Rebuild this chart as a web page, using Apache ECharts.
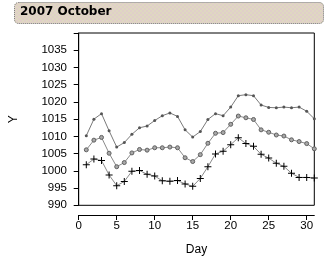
<!DOCTYPE html>
<html>
<head>
<meta charset="utf-8">
<script src="https://cdn.jsdelivr.net/npm/echarts@6/dist/echarts.min.js"></script>
<style>
html,body{margin:0;padding:0;background:#fff;}
#c{width:331px;height:261px;}
</style>
</head>
<body>
<div id="c"></div>
<script>
var titleText = '2007 October';
var days = [1,2,3,4,5,6,7,8,9,10,11,12,13,14,15,16,17,18,19,20,21,22,23,24,25,26,27,28,29,30,31];
var highVals = [1010.2,1015.0,1016.6,1011.6,1006.9,1008.2,1010.6,1012.5,1013.0,1014.6,1016.0,1016.8,1015.8,1011.9,1009.8,1011.4,1014.9,1016.6,1016.0,1018.5,1021.8,1022.1,1021.8,1019.1,1018.4,1018.3,1018.5,1018.3,1018.5,1017.3,1015.1];
var meanVals = [1006.1,1008.9,1009.7,1005.1,1001.2,1002.4,1005.2,1006.2,1006.0,1006.7,1006.7,1006.9,1006.7,1003.8,1002.7,1004.7,1008.0,1010.9,1011.1,1013.5,1015.9,1015.4,1014.9,1011.9,1011.2,1010.4,1010.1,1009.0,1008.5,1007.9,1006.4];
var lowVals = [1001.8,1003.4,1003.0,998.8,995.7,996.9,999.9,1000.1,999.0,998.5,997.1,997.0,997.2,996.2,995.5,997.8,1001.2,1004.9,1005.7,1007.6,1009.6,1007.9,1007.1,1004.8,1003.7,1002.2,1001.3,999.3,998.1,998.1,997.9];
var xTickLabels = [0,5,10,15,20,25,30];
var yTickLabels = [990,995,1000,1005,1010,1015,1020,1025,1030,1035];
var yTickMarks = [990,995,1000,1005,1010,1015,1020,1025,1030,1035,1040];

function pairs(vals){ return days.map(function(d,i){ return [d, vals[i]]; }); }

// title box pattern
var pc = document.createElement('canvas');
pc.width = 4; pc.height = 4;
var g = pc.getContext('2d');
g.fillStyle = '#d6cfc6'; g.fillRect(0,0,4,4);
g.fillStyle = '#f2c6c6'; g.fillRect(0,0,1,1); g.fillRect(2,2,1,1);
g.fillStyle = '#eeeaa8'; g.fillRect(2,0,1,1); g.fillRect(0,2,1,1);
g.fillStyle = '#e2dad2'; g.fillRect(1,1,1,1); g.fillRect(3,3,1,1); g.fillRect(1,3,1,1); g.fillRect(3,1,1,1);

var chart = echarts.init(document.getElementById('c'), null, {renderer:'canvas'});
var font = 'Liberation Sans';
var plusPath = 'path://M3,0h1v3h3v1h-3v3h-1v-3h-3v-1h3z';
function plain(v){ return String(v); }
chart.setOption({
  animation:false,
  backgroundColor:'#fff',
  graphic:[
    {type:'rect', left:14, top:2, shape:{width:309, height:21, r:4},
     style:{fill:{image:pc, repeat:'repeat'}, stroke:'#6e6e6e', lineWidth:1, lineDash:[1,1]}},
    {type:'text', left:20, top:6, style:{text:titleText, font:'bold 12px "DejaVu Sans"', fill:'#000'}}
  ],
  grid:{left:74.7, right:16.7, top:33, bottom:48.7, show:true, borderColor:'#000', borderWidth:1, backgroundColor:'transparent'},
  xAxis:{
    type:'value', min:0, max:31, interval:5, offset:9.7,
    name:'Day', nameLocation:'middle', nameGap:29,
    nameTextStyle:{color:'#000', fontFamily:font, fontSize:12},
    axisLine:{show:true, lineStyle:{color:'#000', width:1}},
    axisTick:{show:true, length:5, customValues:xTickLabels, lineStyle:{color:'#000'}},
    axisLabel:{customValues:xTickLabels, formatter:plain, margin:5, color:'#000', fontFamily:font, fontSize:11.5},
    splitLine:{show:false}
  },
  yAxis:{
    type:'value', min:990, max:1040, interval:5, offset:8.7,
    name:'Y', nameLocation:'middle', nameGap:50,
    nameTextStyle:{color:'#000', fontFamily:font, fontSize:12},
    axisLine:{show:true, lineStyle:{color:'#000', width:1}},
    axisTick:{show:true, length:5, customValues:yTickMarks, lineStyle:{color:'#000'}},
    axisLabel:{customValues:yTickLabels, formatter:plain, margin:3, color:'#000', fontFamily:font, fontSize:11.5},
    splitLine:{show:false}
  },
  series:[
    {type:'line', data:pairs(highVals), symbol:'circle', symbolSize:3,
     lineStyle:{color:'#7a7a7a', width:1}, itemStyle:{color:'#555'}},
    {type:'line', data:pairs(meanVals), symbol:'circle', symbolSize:4,
     lineStyle:{color:'#8a8a8a', width:1}, itemStyle:{color:'#a8a8a8', borderColor:'#606060', borderWidth:1}},
    {type:'line', data:pairs(lowVals), symbol:plusPath, symbolSize:7,
     lineStyle:{color:'#8a8a8a', width:1}, itemStyle:{color:'#000'}}
  ]
});
</script>
</body>
</html>
